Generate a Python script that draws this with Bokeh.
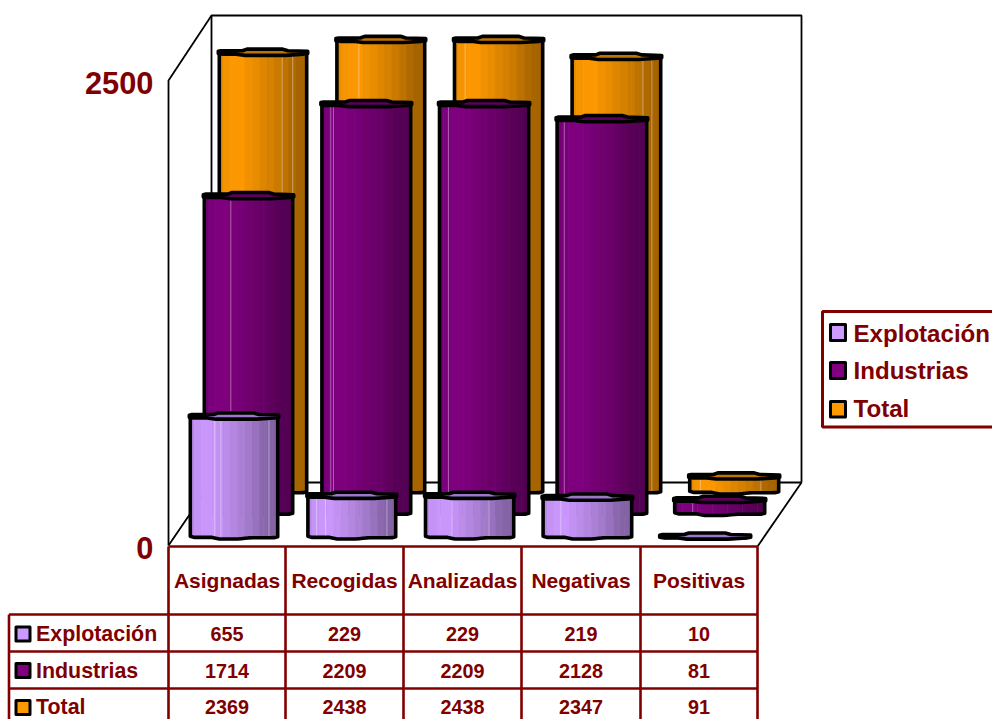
import numpy as np
from bokeh.plotting import figure
from bokeh.embed import file_html
from bokeh.resources import INLINE
from bokeh.core.properties import value
from bokeh.models import Range1d

categories = ["Asignadas", "Recogidas", "Analizadas", "Negativas", "Positivas"]
series_names = ["Explotación", "Industrias", "Total"]
explotacion = [655, 229, 229, 219, 10]
industrias = [1714, 2209, 2209, 2128, 81]
total = [2369, 2438, 2438, 2347, 91]
y_ticks = [0, 2500]

series_values = [explotacion, industrias, total]
colors = ["#CC99FF", "#800080", "#FF9900"]
cap_colors = ["#9E78C8", "#5C005C", "#C07400"]
DARK = "#800000"
FONT = value("Liberation Sans")

W, H = 992, 719
K = 0.186      # px per unit on the value axis
ZERO = 545     # px row of value 0


def Y(px):
    return (ZERO - np.asarray(px, dtype=float)) / K


p = figure(width=W, height=H, output_backend="svg", toolbar_location=None,
           x_range=Range1d(0, W), y_range=Range1d(float(Y(H)), float(Y(0))),
           min_border=0)
p.xaxis.visible = False
p.yaxis.visible = False
p.xgrid.visible = False
p.ygrid.visible = False
p.outline_line_color = None
p.background_fill_color = "white"
p.border_fill_color = "white"

# ---- 3D walls and floor
wall_x = [[168, 168, 211, 801, 801], [211, 211], [168, 211, 801], [757, 801]]
wall_y = [[545, 80, 15, 15, 482], [15, 482], [545, 482, 482], [546, 482]]
p.multi_line(wall_x, [Y(a).tolist() for a in wall_y], line_color="black", line_width=1.8)

# ---- cylinders (back to front)
BASE_X = [(188, 279), (202, 294), (217, 308)]
BASE_PX = [540.5, 517, 495.5]
STEP_L, STEP_R = 117.6, 118.0
E = 8
STROKE = 3.6

bottom_t = [0, .03, .25, .33, .55, .68, .95, 1]
bottom_o = [-3, -1.8, -1.8, -.2, -.2, -1.4, -1.4, -2.4]
cap_t = [0, .03, .27, .32, .72, .78, 1, 1, .95, .75, .3, .2, .05, 0]
cap_o = [2.2, 1.6, 1.6, 0, 0, 1.6, 2.2, 4.4, 5, 6.2, 6.2, 5, 5, 4.4]
shade_t = [0, .08, .22, .45, .7, .87, 1]
shade_f = [.90, .96, 1.0, .90, .78, .66, .64]
seams = {(2, 0): [.72, .84], (2, 1): [.25], (2, 2): [.12], (2, 3): [.8, .9], (2, 4): [.12, .8],
         (1, 0): [.3], (1, 1): [.1, .13], (1, 2): [.1], (1, 3): [.08], (1, 4): [.2],
         (0, 0): [.28, .35, .9], (0, 1): [.1, .2, .9], (0, 2): [.3, .72], (0, 3): [.2], (0, 4): []}
N = 24


def shade(color, f):
    c = [int(color[i:i + 2], 16) for i in (1, 3, 5)]
    return "#%02x%02x%02x" % tuple(int(round(v * f)) for v in c)


for s in (2, 1, 0):
    sl, st, sb, sr, sc = [], [], [], [], []
    ox, oy, cx, cy = [], [], [], []
    mx, my = [], []
    for i, v in enumerate(series_values[s]):
        x0 = BASE_X[s][0] + i * STEP_L + STROKE / 2
        x1 = BASE_X[s][1] + i * STEP_R - STROKE / 2
        w = x1 - x0
        bot = BASE_PX[s] - STROKE / 2
        top_val = float(Y(BASE_PX[s] - E)) + v          # value drives the height
        top_px = ZERO - top_val * K + STROKE / 2
        edges = np.linspace(0, 1, N + 1)
        for a, b in zip(edges[:-1], edges[1:]):
            m = (a + b) / 2
            sl.append(x0 + a * w)
            sr.append(x0 + b * w + .6)
            st.append(float(Y(top_px + 3)))
            sb.append(float(Y(bot + np.interp(m, bottom_t, bottom_o))))
            sc.append(shade(colors[s], float(np.interp(round(m * 12) / 12, shade_t, shade_f))))
        for t in seams.get((s, i), []):
            mx.append([x0 + t * w, x0 + t * w])
            my.append([float(Y(top_px + 6)), float(Y(bot + np.interp(t, bottom_t, bottom_o) - 1))])
        tb = np.linspace(0, 1, 25)
        ox.append([x0] + (x0 + tb * w).tolist() + [x1])
        oy.append(Y([top_px + 3] + (bot + np.interp(tb, bottom_t, bottom_o)).tolist() + [top_px + 3]).tolist())
        cx.append((x0 - 1 + np.array(cap_t) * (w + 2)).tolist())
        cy.append(Y(top_px + np.array(cap_o)).tolist())
    p.quad(left=sl, right=sr, top=st, bottom=sb, fill_color=sc, line_color=None)
    if mx:
        p.multi_line(mx, my, line_color="white", line_alpha=.38, line_width=1)
    p.patches(ox, oy, fill_color=None, line_color="black", line_width=STROKE, line_join="round")
    p.patches(cx, cy, fill_color=cap_colors[s], line_color="black", line_width=STROKE, line_join="round")

# ---- data table
col_x = [168, 285, 403, 521, 640, 757]
row_y = [614, 651, 688]
table_bottom = 725
tx = [[168, 757], [8.5, 757], [8.5, 757], [8.5, 757], [8.5, 757]]
ty = [[546, 546], [614, 614], [651, 651], [688, 688], [table_bottom, table_bottom]]
for x in col_x:
    tx.append([x, x])
    ty.append([546, table_bottom])
tx.append([8.5, 8.5])
ty.append([614, table_bottom])
p.multi_line(tx, [Y(a).tolist() for a in ty], line_color=DARK, line_width=2.6)

centers = [(a + b) / 2 for a, b in zip(col_x[:-1], col_x[1:])]
row_centers = [633, 670, 706]
p.text(centers, [float(Y(580))] * 5, text=categories, text_font=FONT, text_font_style="bold",
       text_font_size="21px", text_color=DARK, text_align="center", text_baseline="middle")
for r, vals in enumerate(series_values):
    p.text(centers, [float(Y(row_centers[r]))] * 5, text=[str(v) for v in vals], text_font=FONT,
           text_font_style="bold", text_font_size="19.8px", text_color=DARK,
           text_align="center", text_baseline="middle")
p.text([35.5] * 3, Y(row_centers).tolist(), text=series_names, text_font=FONT, text_font_style="bold",
       text_font_size="21.4px", text_color=DARK, text_align="left", text_baseline="middle")
p.quad(left=[15.5] * 3, right=[29.5] * 3, top=Y([626.5, 663, 700]).tolist(), bottom=Y([640.5, 677, 714]).tolist(),
       fill_color=colors, line_color="black", line_width=3, line_join="round")

# ---- value-axis labels
p.text([153] * 2, [float(t) for t in y_ticks], y_offset=[2, 2], text=[str(t) for t in y_ticks], text_font=FONT,
       text_font_style="bold", text_font_size="30.8px", text_color=DARK, text_align="right", text_baseline="middle")

# ---- legend
p.quad(left=[822], right=[1000], top=[float(Y(311))], bottom=[float(Y(426.5))], fill_color="white",
       line_color=DARK, line_width=3)
p.quad(left=[830] * 3, right=[845] * 3, top=Y([324, 362, 401]).tolist(), bottom=Y([340, 378, 416.5]).tolist(),
       fill_color=colors, line_color="black", line_width=3, line_join="round")
p.text([853] * 3, Y([333, 370, 408]).tolist(), text=series_names, text_font=FONT, text_font_style="bold",
       text_font_size="24.1px", text_color=DARK, text_align="left", text_baseline="middle")

open("out.html", "w").write(file_html(p, INLINE))
